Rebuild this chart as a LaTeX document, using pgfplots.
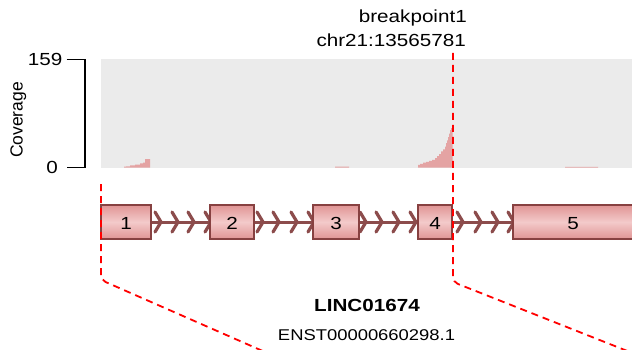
\documentclass[border=0pt]{standalone}
\usepackage{pgfplots}
\pgfplotsset{compat=1.18}
\usepackage{fontspec}
\setmainfont[FakeStretch=1.18]{Liberation Sans}
\newfontfamily\plainfont{Liberation Sans}
\definecolor{covgray}{RGB}{235,235,235}
\definecolor{covpink}{RGB}{228,163,163}
\definecolor{exdark}{RGB}{224,148,148}
\definecolor{exlight}{RGB}{243,202,202}
\definecolor{exbord}{RGB}{135,65,65}
\definecolor{intron}{RGB}{140,76,76}
\tikzset{lbl/.style={font=\fontsize{17.5}{21}\selectfont, inner sep=0pt},
  exon/.style={draw=exbord, line width=1.3pt, top color=exdark, bottom color=exdark,
    middle color=exlight},
  bp/.style={red, line width=1.8pt, dash pattern=on 7pt off 5pt, rounded corners=5pt}}
\begin{document}
\begin{tikzpicture}
\path[use as bounding box] (0,0) rectangle (632pt,350pt);

% coverage track (x in pixel positions, y in reads)
\begin{axis}[at={(101pt,182.3pt)}, anchor=south west, scale only axis,
  width=531pt, height=108.4pt,
  xmin=101, xmax=632, ymin=0, ymax=159,
  axis line style={draw=none}, xtick=\empty, ytick=\empty,
  axis background/.style={fill=covgray}, clip=false]
\addplot[const plot, fill=covpink, draw=none] coordinates {
  (124,1.5)(126,2)(130,3.5)(135,4.5)(140,6.5)(143,7.5)(145,12.5)(150,12.5)} \closedcycle;
\addplot[const plot, fill=covpink, draw=none] coordinates {
  (335,1.5)(349,1.5)} \closedcycle;
\addplot[const plot, fill=covpink, draw=none] coordinates {
  (418,4)(420,5.5)(423,7.5)(426,8.5)(429,10)(432,11.5)(435,14)(437,17)
  (439,20)(441,24)(443,27)(445,31)(446,36)(447,40)(448,45)(449,50)
  (450,55)(451,58)(452.7,58)} \closedcycle;
\addplot[const plot, fill=covpink, draw=none] coordinates {
  (565,1.2)(598,1.2)} \closedcycle;
% y axis bracket
\draw[black, line width=1.3pt] (axis cs:66.7,159) -- (axis cs:85,159)
  -- (axis cs:85,0) -- (axis cs:66.7,0);
\node[lbl, anchor=east] at (axis cs:62.5,159) {159};
\node[lbl, anchor=east] at (axis cs:58,0) {0};
\node[lbl, font=\plainfont\fontsize{17.5}{21}\selectfont, rotate=90, anchor=center]
  at (axis cs:18.4,70) {Coverage};
\end{axis}

% transcript track (pixel coordinates)
\begin{axis}[at={(0pt,0pt)}, anchor=south west, scale only axis,
  width=632pt, height=350pt, xmin=0, xmax=632, ymin=0, ymax=350,
  y dir=reverse, hide axis]
% intron line and chevrons
\addplot[intron, line width=3pt] coordinates {(151,222)(513,222)};
\addplot[intron, line width=3.2pt, line cap=round, line join=miter, unbounded coords=jump]
  coordinates {
  (155,212)(161,222)(155,232)(nan,nan)(172,212)(178,222)(172,232)(nan,nan)
  (188,212)(194,222)(188,232)(nan,nan)(205,212)(211,222)(205,232)(nan,nan)
  (257,212)(263,222)(257,232)(nan,nan)(273,212)(279,222)(273,232)(nan,nan)
  (291,212)(297,222)(291,232)(nan,nan)(308,212)(314,222)(308,232)(nan,nan)
  (360,212)(366,222)(360,232)(nan,nan)(376,212)(382,222)(376,232)(nan,nan)
  (393,212)(399,222)(393,232)(nan,nan)(410,212)(416,222)(410,232)(nan,nan)
  (457,212)(463,222)(457,232)(nan,nan)(475,212)(481,222)(475,232)(nan,nan)
  (492,212)(498,222)(492,232)(nan,nan)(508,212)(514,222)(508,232)};
% exons
\addplot[exon] coordinates {(101,205)(151,205)(151,239)(101,239)} -- cycle;
\addplot[exon] coordinates {(210,205)(254,205)(254,239)(210,239)} -- cycle;
\addplot[exon] coordinates {(313,205)(359,205)(359,239)(313,239)} -- cycle;
\addplot[exon] coordinates {(418,205)(452,205)(452,239)(418,239)} -- cycle;
\addplot[exon] coordinates {(513,205)(700,205)(700,239)(513,239)} -- cycle;
\node[lbl, anchor=base] at (axis cs:126,229) {1};
\node[lbl, anchor=base] at (axis cs:232,229) {2};
\node[lbl, anchor=base] at (axis cs:336,229) {3};
\node[lbl, anchor=base] at (axis cs:435,229) {4};
\node[lbl, anchor=base] at (axis cs:573,229) {5};
% breakpoint guides
\addplot[bp] coordinates {(453,53)(453,282)(640,356)};
\addplot[bp] coordinates {(101,184)(101,280)(265,352)};
% labels
\node[lbl, anchor=base east] at (axis cs:467,22.7) {breakpoint1};
\node[lbl, anchor=base east] at (axis cs:466,46.7) {chr21:13565781};
\node[lbl, anchor=base, font=\bfseries\fontsize{17.5}{21}\selectfont] at (axis cs:367,311.7) {LINC01674};
\node[lbl, anchor=base, font=\fontsize{15.6}{19}\selectfont] at (axis cs:366.5,340) {ENST00000660298.1};
\end{axis}
\end{tikzpicture}
\end{document}
